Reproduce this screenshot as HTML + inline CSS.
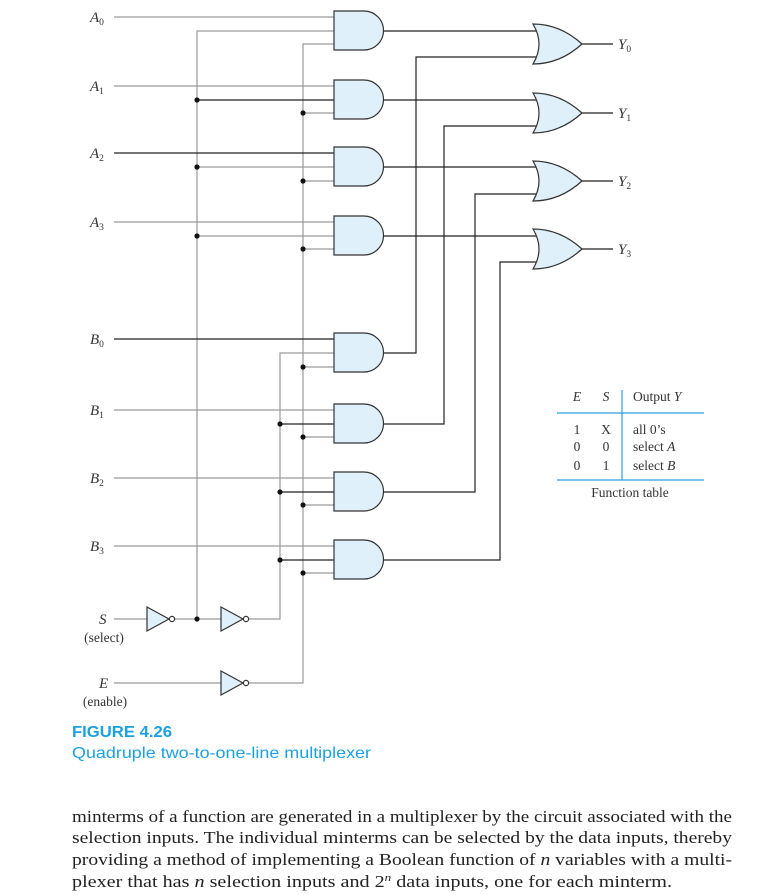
<!DOCTYPE html>
<html><head><meta charset="utf-8"><style>
html,body{margin:0;padding:0;background:#fff;}
svg{display:block;}
.l{font-family:"Liberation Serif",serif;font-style:italic;font-size:15px;fill:#333;}
.s{font-size:9.5px;font-style:normal;}
.t{font-family:"Liberation Serif",serif;font-size:13.5px;fill:#333;}
.p{font-family:"Liberation Serif",serif;font-size:17px;fill:#222;}
.c{font-family:"Liberation Sans",sans-serif;fill:#1ba1e2;}
</style></head><body>
<svg width="773" height="895" viewBox="0 0 773 895" xmlns="http://www.w3.org/2000/svg">
<g fill="none" stroke-width="1.2">
<g stroke="#9a9a9a">
<line x1="114" y1="17" x2="334" y2="17"/>
<line x1="114" y1="86" x2="334" y2="86"/>
<line x1="114" y1="222" x2="334" y2="222"/>
<line x1="114" y1="410" x2="334" y2="410"/>
<line x1="114" y1="478" x2="334" y2="478"/>
<line x1="114" y1="546" x2="334" y2="546"/>
<polyline points="334,31 197,31 197,619"/>
<line x1="197" y1="167" x2="334" y2="167"/>
<line x1="197" y1="236" x2="334" y2="236"/>
<polyline points="334,353 280,353 280,619 249,619"/>
<polyline points="334,44 303,44 303,683 249,683"/>
<line x1="303" y1="113" x2="334" y2="113"/>
<line x1="303" y1="181" x2="334" y2="181"/>
<line x1="303" y1="249" x2="334" y2="249"/>
<line x1="303" y1="367" x2="334" y2="367"/>
<line x1="303" y1="437" x2="334" y2="437"/>
<line x1="303" y1="505" x2="334" y2="505"/>
<line x1="303" y1="573" x2="334" y2="573"/>
<line x1="114" y1="619" x2="147" y2="619"/>
<line x1="175" y1="619" x2="221" y2="619"/>
<line x1="114" y1="683" x2="221" y2="683"/>
</g>
<g stroke="#222">
<line x1="114" y1="153" x2="334" y2="153"/>
<line x1="114" y1="339" x2="334" y2="339"/>
<line x1="197" y1="100" x2="334" y2="100"/>
<line x1="280" y1="424" x2="334" y2="424"/>
<line x1="280" y1="492" x2="334" y2="492"/>
<line x1="280" y1="560" x2="334" y2="560"/>
<line x1="380" y1="31" x2="540" y2="31"/>
<line x1="380" y1="100" x2="540" y2="100"/>
<line x1="380" y1="167" x2="540" y2="167"/>
<line x1="380" y1="236" x2="540" y2="236"/>
<polyline points="380,353 416,353 416,57 540,57"/>
<polyline points="380,424 444,424 444,126 540,126"/>
<polyline points="380,492 475,492 475,194 540,194"/>
<polyline points="380,560 500,560 500,262 540,262"/>
<line x1="580" y1="44" x2="613" y2="44"/>
<line x1="580" y1="113" x2="613" y2="113"/>
<line x1="580" y1="181" x2="613" y2="181"/>
<line x1="580" y1="249" x2="613" y2="249"/>
</g>
</g>
<g fill="#111">
<circle cx="197" cy="100" r="2.6"/><circle cx="197" cy="167" r="2.6"/><circle cx="197" cy="236" r="2.6"/>
<circle cx="303" cy="113" r="2.6"/><circle cx="303" cy="181" r="2.6"/><circle cx="303" cy="249" r="2.6"/>
<circle cx="303" cy="367" r="2.6"/><circle cx="303" cy="437" r="2.6"/><circle cx="303" cy="505" r="2.6"/><circle cx="303" cy="573" r="2.6"/>
<circle cx="280" cy="424" r="2.6"/><circle cx="280" cy="492" r="2.6"/><circle cx="280" cy="560" r="2.6"/>
<circle cx="197" cy="619" r="2.6"/>
</g>
<g fill="#dff0fa" stroke="#333" stroke-width="1.2">
<path d="M334,11 H364 A19.5,19.5 0 0 1 364,50 H334 Z"/>
<path d="M334,80 H364 A19.5,19.5 0 0 1 364,119 H334 Z"/>
<path d="M334,147 H364 A19.5,19.5 0 0 1 364,186 H334 Z"/>
<path d="M334,216 H364 A19.5,19.5 0 0 1 364,255 H334 Z"/>
<path d="M334,333 H364 A19.5,19.5 0 0 1 364,372 H334 Z"/>
<path d="M334,404 H364 A19.5,19.5 0 0 1 364,443 H334 Z"/>
<path d="M334,472 H364 A19.5,19.5 0 0 1 364,511 H334 Z"/>
<path d="M334,540 H364 A19.5,19.5 0 0 1 364,579 H334 Z"/>
<path d="M533,24 Q560,24 582,44 Q560,64 533,64 Q545,44 533,24 Z"/>
<path d="M533,93 Q560,93 582,113 Q560,133 533,133 Q545,113 533,93 Z"/>
<path d="M533,161 Q560,161 582,181 Q560,201 533,201 Q545,181 533,161 Z"/>
<path d="M533,229 Q560,229 582,249 Q560,269 533,269 Q545,249 533,229 Z"/>
<path d="M147,607 L169,619 L147,631 Z"/><circle cx="172" cy="619" r="2.6" fill="#fff"/>
<path d="M221,607 L243,619 L221,631 Z"/><circle cx="246" cy="619" r="2.6" fill="#fff"/>
<path d="M221,671 L243,683 L221,695 Z"/><circle cx="246" cy="683" r="2.6" fill="#fff"/>
</g>
<g class="l">
<text x="90" y="22">A<tspan class="s" dy="3">0</tspan></text>
<text x="90" y="91">A<tspan class="s" dy="3">1</tspan></text>
<text x="90" y="158">A<tspan class="s" dy="3">2</tspan></text>
<text x="90" y="227">A<tspan class="s" dy="3">3</tspan></text>
<text x="90" y="344">B<tspan class="s" dy="3">0</tspan></text>
<text x="90" y="415">B<tspan class="s" dy="3">1</tspan></text>
<text x="90" y="483">B<tspan class="s" dy="3">2</tspan></text>
<text x="90" y="551">B<tspan class="s" dy="3">3</tspan></text>
<text x="618" y="49">Y<tspan class="s" dy="3">0</tspan></text>
<text x="618" y="118">Y<tspan class="s" dy="3">1</tspan></text>
<text x="618" y="186">Y<tspan class="s" dy="3">2</tspan></text>
<text x="618" y="254">Y<tspan class="s" dy="3">3</tspan></text>
<text x="99" y="624">S</text>
<text x="99" y="688">E</text>
</g>
<text class="t" x="104" y="642" text-anchor="middle">(select)</text>
<text class="t" x="105" y="706" text-anchor="middle">(enable)</text>
<g stroke="#2aa0dc" stroke-width="1.2">
<line x1="557" y1="413" x2="704" y2="413"/>
<line x1="557" y1="480" x2="704" y2="480"/>
<line x1="622" y1="390" x2="622" y2="480"/>
</g>
<g class="t">
<text x="577" y="401" text-anchor="middle" font-style="italic">E</text>
<text x="606" y="401" text-anchor="middle" font-style="italic">S</text>
<text x="633" y="401">Output <tspan font-style="italic">Y</tspan></text>
<text x="577" y="434" text-anchor="middle">1</text><text x="606" y="434" text-anchor="middle">X</text><text x="633" y="434">all 0’s</text>
<text x="577" y="451" text-anchor="middle">0</text><text x="606" y="451" text-anchor="middle">0</text><text x="633" y="451">select <tspan font-style="italic">A</tspan></text>
<text x="577" y="470" text-anchor="middle">0</text><text x="606" y="470" text-anchor="middle">1</text><text x="633" y="470">select <tspan font-style="italic">B</tspan></text>
<text x="630" y="497" text-anchor="middle">Function table</text>
</g>
<text class="c" x="72" y="737" font-size="16" font-weight="bold" textLength="100" lengthAdjust="spacingAndGlyphs">FIGURE 4.26</text>
<text class="c" x="72" y="758" font-size="16" textLength="299" lengthAdjust="spacingAndGlyphs">Quadruple two-to-one-line multiplexer</text>
<g class="p">
<text x="72" y="822" textLength="660" lengthAdjust="spacingAndGlyphs">minterms of a function are generated in a multiplexer by the circuit associated with the</text>
<text x="72" y="843" textLength="660" lengthAdjust="spacingAndGlyphs">selection inputs. The individual minterms can be selected by the data inputs, thereby</text>
<text x="72" y="865" textLength="660" lengthAdjust="spacingAndGlyphs">providing a method of implementing a Boolean function of <tspan font-style="italic">n</tspan> variables with a multi-</text>
<text x="72" y="887" textLength="600" lengthAdjust="spacingAndGlyphs">plexer that has <tspan font-style="italic">n</tspan> selection inputs and 2<tspan font-style="italic" font-size="11" dy="-6">n</tspan><tspan dy="6"> data inputs, one for each minterm.</tspan></text>
</g>
</svg>
</body></html>
